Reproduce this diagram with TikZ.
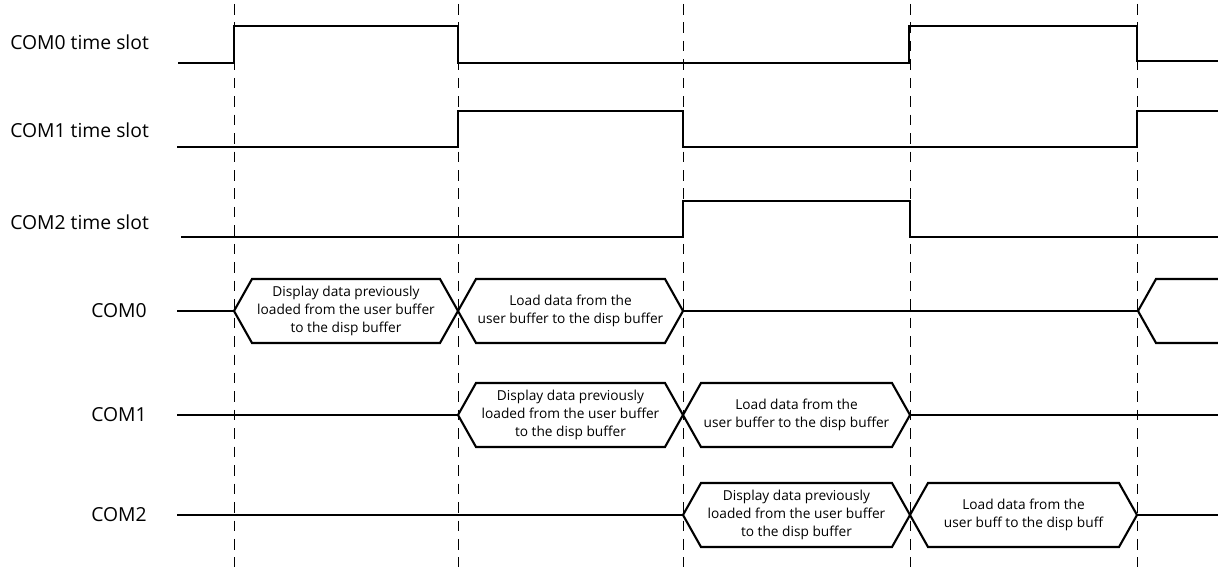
\documentclass[tikz,border=0pt]{standalone}
\usepackage{fontspec}
\setmainfont{Open Sans}
\usetikzlibrary{positioning}

\begin{document}
\begin{tikzpicture}[x=0.02cm, y=-0.02cm,
        wave/.style={line width=1.2pt, line join=miter},
        slotline/.style={dashed, dash pattern=on 6pt off 4.5pt, line width=0.5pt},
        sigLabel/.style={font=\fontsize{11}{13}\selectfont, inner sep=0pt},
        busText/.style={font=\fontsize{7.8}{10}\selectfont, align=center, inner sep=0pt}]

        \useasboundingbox (0,0) rectangle (1218,567);

        % slot boundaries
        \foreach \xx in {234, 458, 683, 910, 1137}
            \draw[slotline] (\xx,4) -- (\xx,567);

        % signal names
        \node[sigLabel, anchor=west] (slot0) at (10,42)  {COM0 time slot};
        \node[sigLabel, anchor=west] (slot1) at (10,130) {COM1 time slot};
        \node[sigLabel, anchor=west] (slot2) at (10,222) {COM2 time slot};
        \node[sigLabel, anchor=east] (bus0) at (147,311) {COM0};
        \node[sigLabel, anchor=east] (bus1) at (147,415) {COM1};
        \node[sigLabel, anchor=east] (bus2) at (147,515) {COM2};

        % time slot waveforms
        \draw[wave] (178,63) -- (234,63) -- (234,26) -- (458,26) -- (458,63)
            -- (909,63) -- (909,26) -- (1137,26) -- (1137,61) -- (1218,61);
        \draw[wave] (177,147) -- (458,147) -- (458,111) -- (683,111) -- (683,147)
            -- (1137,147) -- (1137,111) -- (1218,111);
        \draw[wave] (181,237) -- (683,237) -- (683,201) -- (910,201) -- (910,237)
            -- (1218,237);

        % COM0 bus
        \draw[wave] (177,311) -- (234,311);
        \draw[wave] (683,311) -- (1137,311);
        \draw[wave] (1218,279) -- (1156,279) -- (1138,311) -- (1156,343) -- (1218,343);
        % COM1 bus
        \draw[wave] (177,415) -- (458,415);
        \draw[wave] (910,415) -- (1218,415);
        % COM2 bus
        \draw[wave] (177,515) -- (683,515);
        \draw[wave] (1137,515) -- (1218,515);

        % data phases
        \foreach \xa/\xb/\yy/\txt/\nm in {
            234/458/311/{Display data previously\\loaded from the user buffer\\to the disp buffer}/disp0,
            458/683/311/{Load data from the\\user buffer to the disp buffer}/load0,
            458/683/415/{Display data previously\\loaded from the user buffer\\to the disp buffer}/disp1,
            683/910/415/{Load data from the\\user buffer to the disp buffer}/load1,
            683/910/515/{Display data previously\\loaded from the user buffer\\to the disp buffer}/disp2,
            910/1137/515/{Load data from the\\user buff to the disp buff}/load2}
        {
            \draw[wave] (\xa,\yy) -- (\xa+18,\yy-32) -- (\xb-18,\yy-32) -- (\xb,\yy)
                -- (\xb-18,\yy+32) -- (\xa+18,\yy+32) -- cycle;
            \node[busText] (\nm) at ({(\xa+\xb)/2},\yy) {\txt};
        }
    \end{tikzpicture}
\end{document}
